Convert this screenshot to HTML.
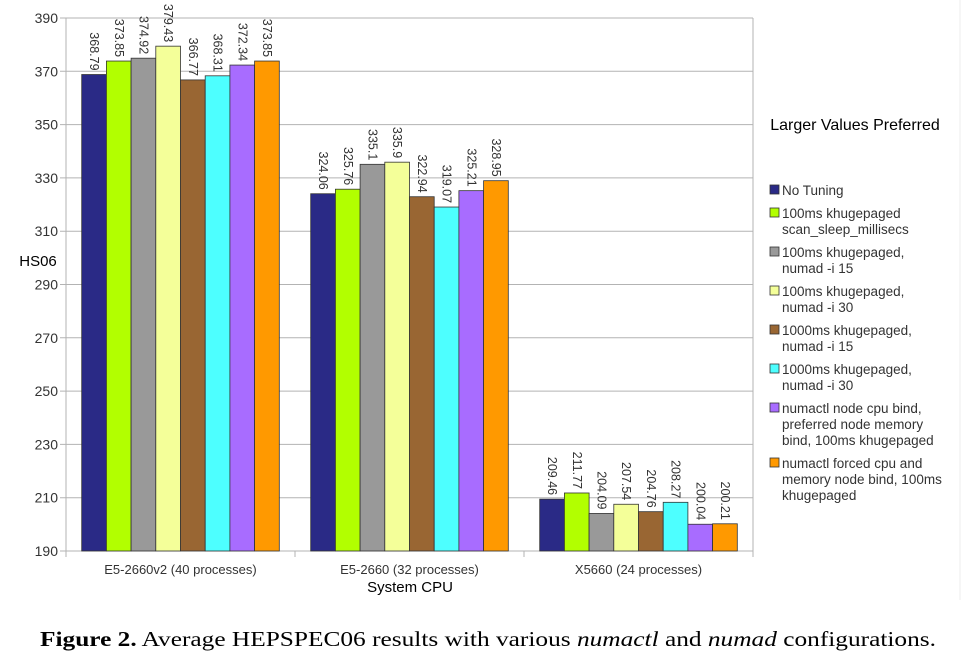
<!DOCTYPE html>
<html><head><meta charset="utf-8"><style>
body{margin:0;background:#fff;width:973px;height:665px;overflow:hidden}
svg text{font-family:"Liberation Sans",sans-serif}
</style></head><body>
<svg id="c" width="973" height="665">
<line x1="960" y1="0" x2="960" y2="600" stroke="#eee"/>
<g id="grid"></g><g id="bars"></g><g id="labels"></g><g id="legend"></g>
<text x="38" y="266" font-size="15" text-anchor="middle">HS06</text>
<text x="410" y="592" font-size="15" text-anchor="middle">System CPU</text>
<text x="855" y="130" font-size="16" text-anchor="middle">Larger Values Preferred</text>
<text x="488" y="646" font-size="21" text-anchor="middle" textLength="896" lengthAdjust="spacingAndGlyphs" style="font-family:'Liberation Serif',serif"><tspan font-weight="bold">Figure 2.</tspan> Average HEPSPEC06 results with various <tspan font-style="italic">numactl</tspan> and <tspan font-style="italic">numad</tspan> configurations.</text>
</svg>
<script>
const categories=["E5-2660v2 (40 processes)","E5-2660 (32 processes)","X5660 (24 processes)"];
const seriesNames=[["No Tuning"],["100ms khugepaged","scan_sleep_millisecs"],["100ms khugepaged,","numad -i 15"],["100ms khugepaged,","numad -i 30"],["1000ms khugepaged,","numad -i 15"],["1000ms khugepaged,","numad -i 30"],["numactl node cpu bind,","preferred node memory","bind, 100ms khugepaged"],["numactl forced cpu and","memory node bind, 100ms","khugepaged"]];
const colors=["#2a2a86","#b2ff00","#999999","#f4ff99","#996633","#4dffff","#a86cff","#ff9900"];
const values=[[368.79,324.06,209.46],[373.85,325.76,211.77],[374.92,335.1,204.09],[379.43,335.9,207.54],[366.77,322.94,204.76],[368.31,319.07,208.27],[372.34,325.21,200.04],[373.85,328.95,200.21]];
const labels=[["368.79","324.06","209.46"],["373.85","325.76","211.77"],["374.92","335.1","204.09"],["379.43","335.9","207.54"],["366.77","322.94","204.76"],["368.31","319.07","208.27"],["372.34","325.21","200.04"],["373.85","328.95","200.21"]];
const yTicks=[190,210,230,250,270,290,310,330,350,370,390];
const NS="http://www.w3.org/2000/svg";
const L=66,R=753,T=18,B=551,ymin=190,ymax=390;
const y=v=>B-(v-ymin)/(ymax-ymin)*(B-T);
const cw=(R-L)/categories.length,bw=24.7;
const x=(c,s)=>L+c*cw+(cw-bw*values.length)/2+s*bw;
function mk(tag,a,p){const e=document.createElementNS(NS,tag);for(const k in a)e.setAttribute(k,a[k]);p.appendChild(e);return e;}
const g=document.getElementById('grid');
yTicks.forEach(t=>{
 const l=mk('line',{x1:L-6,x2:R,y1:y(t),y2:y(t),stroke:'#b3b3b3'},g);
 
 
 const tx=mk('text',{x:L-8,y:y(t)+5,'font-size':14,'text-anchor':'end',fill:'#333'},g);tx.textContent=t;
 
 
});
const ax=mk('line',{x1:L,x2:L,y1:T,y2:B+6,stroke:'#b3b3b3'},g);


mk('line',{x1:R,x2:R,y1:T,y2:B+6,stroke:'#b3b3b3'},g);
categories.forEach((c,i)=>{
 if(i>0)mk('line',{x1:L+i*cw,x2:L+i*cw,y1:B,y2:B+6,stroke:'#b3b3b3'},g);
 const t=mk('text',{x:L+(i+.5)*cw,y:B+23,'font-size':13,'text-anchor':'middle',fill:'#333'},g);t.textContent=c;
 
 
});
const bg=document.getElementById('bars'),lg=document.getElementById('labels');
values.forEach((sv,s)=>sv.forEach((v,c)=>{
 const r=mk('rect',{x:x(c,s),y:y(v),width:bw,height:B-y(v),fill:colors[s],stroke:'#333','stroke-width':0.8},bg);
 
 
 const cx=x(c,s)+bw/2,ty=y(v)-4;
 const t=mk('text',{x:0,y:0,'font-size':12.5,fill:'#333',transform:`translate(${cx-4},${ty}) rotate(90)`,'text-anchor':'end'},lg);
 t.textContent=labels[s][c];
 
 
}));
const lgd=document.getElementById('legend');let ly=185;
seriesNames.forEach((n,s)=>{
 const r=mk('rect',{x:770,y:ly,width:9,height:9,fill:colors[s],stroke:'#333','stroke-width':0.8},lgd);
 
 
 n.forEach((line,k)=>{const t=mk('text',{x:782,y:ly+10+k*16,'font-size':13.5,fill:'#333'},lgd);t.textContent=line;
 
 });
 ly+=n.length*16+7;
});
</script>
</body></html>
